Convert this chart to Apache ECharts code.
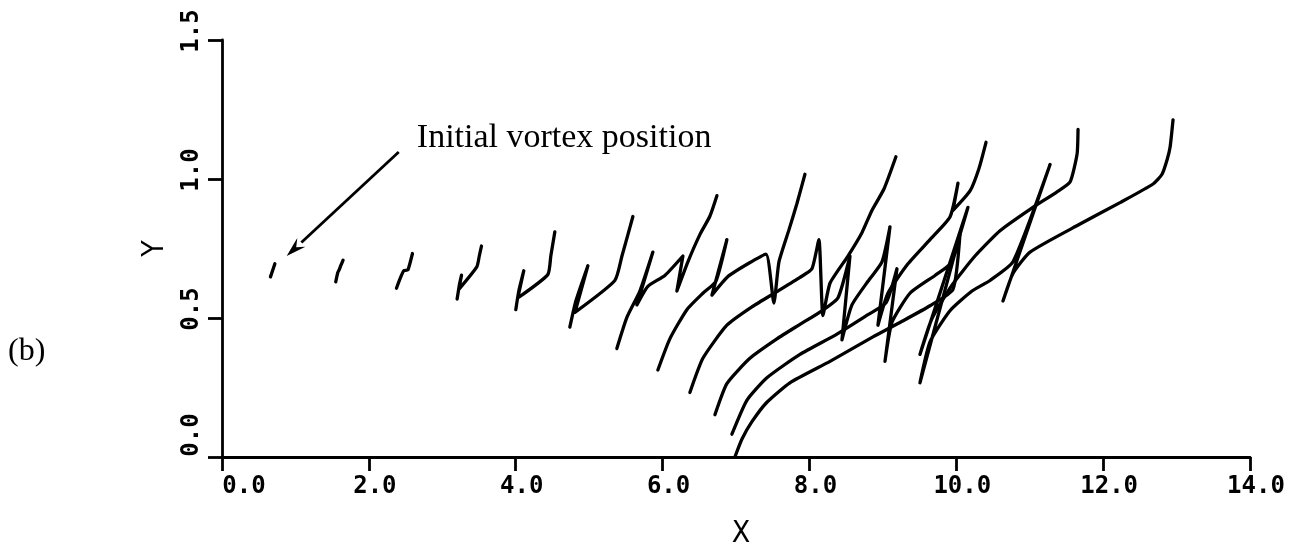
<!DOCTYPE html>
<html>
<head>
<meta charset="utf-8">
<script src="https://cdn.jsdelivr.net/npm/echarts@6/dist/echarts.min.js"></script>
<style>
  html, body { margin: 0; padding: 0; background: #fff; }
  #chart { width: 1296px; height: 554px; }
</style>
</head>
<body>
<div id="chart"></div>
<script>
// vortex sheet snapshots, [x, y], left to right
const S1 = [[0.66, 0.648], [0.72, 0.695]];
const S2 = [[1.549, 0.630], [1.576, 0.663], [1.597, 0.674], [1.617, 0.688], [1.649, 0.708]];
const S3 = [[2.376, 0.607], [2.421, 0.639], [2.475, 0.670], [2.530, 0.673], [2.557, 0.694], [2.594, 0.732]];
const S4 = [[3.202, 0.568], [3.232, 0.618], [3.262, 0.654], [3.225, 0.603], [3.470, 0.684], [3.504, 0.723], [3.534, 0.759]];
const S5 = [[4.001, 0.530], [4.042, 0.597], [4.110, 0.670], [4.028, 0.572], [4.437, 0.656], [4.478, 0.723], [4.533, 0.810]];
const S6 = [[4.737, 0.467], [4.819, 0.561], [4.983, 0.688], [4.806, 0.520], [5.350, 0.635], [5.446, 0.722], [5.596, 0.865]];
const S7 = [[5.377, 0.390], [5.514, 0.502], [5.691, 0.597], [5.868, 0.737], [5.650, 0.547], [5.800, 0.614],
            [6.031, 0.653], [6.277, 0.723], [6.195, 0.597], [6.345, 0.702], [6.508, 0.800], [6.644, 0.866], [6.740, 0.940]];
const S8 = [[5.936, 0.313], [6.099, 0.425], [6.331, 0.530], [6.549, 0.589], [6.726, 0.632], [6.876, 0.782],
            [6.672, 0.582], [6.890, 0.649], [7.162, 0.695], [7.408, 0.730], [7.516, 0.554], [7.585, 0.702],
            [7.721, 0.817], [7.830, 0.912], [7.939, 1.017]];
const S9 = [[6.372, 0.232], [6.549, 0.355], [6.876, 0.474], [7.217, 0.540], [7.571, 0.597], [7.871, 0.646],
            [8.034, 0.677], [8.129, 0.782], [8.184, 0.509], [8.280, 0.625], [8.525, 0.723], [8.715, 0.807],
            [8.851, 0.887], [9.015, 0.964], [9.178, 1.080]];
const S10 = [[6.713, 0.152], [6.876, 0.264], [7.189, 0.355], [7.557, 0.425], [7.871, 0.477], [8.170, 0.526],
             [8.388, 0.572], [8.552, 0.723], [8.443, 0.421], [8.579, 0.547], [8.797, 0.632], [8.988, 0.702],
             [9.097, 0.828], [8.933, 0.474], [9.069, 0.589], [9.342, 0.695], [9.642, 0.782], [9.914, 0.863],
             [10.023, 0.985], [9.955, 0.887], [10.187, 0.957], [10.309, 1.038], [10.405, 1.132]];
const S11 = [[6.944, 0.082], [7.148, 0.204], [7.421, 0.285], [7.871, 0.369], [8.375, 0.442], [8.797, 0.512],
             [9.042, 0.554], [9.192, 0.677], [9.029, 0.344], [9.124, 0.484], [9.369, 0.589], [9.710, 0.653],
             [9.914, 0.695], [10.159, 0.898], [9.505, 0.369], [9.669, 0.498], [9.941, 0.618], [10.255, 0.723],
             [10.595, 0.814], [11.004, 0.891], [11.372, 0.954], [11.549, 0.989], [11.645, 1.090], [11.658, 1.178]];
const S12 = [[6.985, 0.0], [7.080, 0.064], [7.217, 0.127], [7.421, 0.197], [7.734, 0.267], [8.280, 0.344],
             [8.865, 0.432], [9.233, 0.484], [9.642, 0.544], [9.955, 0.603], [10.050, 0.800], [9.505, 0.267],
             [9.642, 0.414], [9.914, 0.526], [10.214, 0.597], [10.459, 0.635], [10.772, 0.702], [11.277, 1.052],
             [10.636, 0.561], [10.772, 0.660], [11.004, 0.737], [11.685, 0.838], [12.230, 0.915], [12.680, 0.982],
             [12.802, 1.017], [12.871, 1.069], [12.912, 1.115], [12.952, 1.213]];

const snapshots = [S1, S2, S3, S4, S5, S6, S7, S8, S9, S10, S11, S12];

const xTicks = { min: 0, max: 14, step: 2 };
const yTicks = { min: 0, max: 1.5, step: 0.5 };

// annotation: arrow from the label down to the first snapshot
const arrowFrom = [2.407, 1.097];
const arrowTo = [0.881, 0.723];
const noteAt = [2.653, 1.146];
const noteText = 'Initial vortex position';

const tickFont = { fontFamily: 'DejaVu Sans Mono', fontWeight: 'bold', fontSize: 24, color: '#000' };
const nameFont = { fontFamily: 'DejaVu Sans Condensed, DejaVu Sans, sans-serif', fontSize: 30, color: '#000' };
const serif = 'Liberation Serif, DejaVu Serif, serif';

const chart = echarts.init(document.getElementById('chart'), null, { renderer: 'canvas' });

const fmt = v => (v === 0 ? '{z|0.0}' : '{n|' + v.toFixed(1) + '}');

const series = snapshots.map(d => ({
  type: 'line',
  data: d,
  showSymbol: false,
  smooth: 0.18,
  silent: true,
  lineStyle: { color: '#000', width: 3.3, cap: 'round', join: 'round' }
}));

chart.setOption({
  animation: false,
  backgroundColor: '#fff',
  grid: { left: 222, right: 46, top: 40, bottom: 86, containLabel: false },
  xAxis: {
    type: 'value',
    min: xTicks.min, max: xTicks.max, interval: xTicks.step,
    name: 'X', nameLocation: 'middle', nameGap: 62,
    nameTextStyle: Object.assign({ padding: [0, 0, 0, 10] }, nameFont),
    axisLine: { lineStyle: { color: '#000', width: 2.8 } },
    axisTick: { length: 14, lineStyle: { color: '#000', width: 2.8 } },
    splitLine: { show: false },
    axisLabel: {
      margin: 18,
      formatter: fmt,
      rich: {
        z: Object.assign({ padding: [0, 0, 0, 44] }, tickFont),
        n: Object.assign({ padding: [0, 0, 0, 12] }, tickFont)
      }
    }
  },
  yAxis: {
    type: 'value',
    min: yTicks.min, max: yTicks.max, interval: yTicks.step,
    name: 'Y', nameLocation: 'middle', nameGap: 52, nameRotate: 90,
    nameTextStyle: nameFont,
    axisLine: { lineStyle: { color: '#000', width: 2.8 } },
    axisTick: { length: 14, lineStyle: { color: '#000', width: 2.8 } },
    splitLine: { show: false },
    axisLabel: {
      rotate: 90,
      margin: 18,
      formatter: fmt,
      rich: {
        z: Object.assign({ padding: [0, 0, 0, 44] }, tickFont),
        n: Object.assign({ padding: [0, 0, 0, 18] }, tickFont)
      }
    }
  },
  series: series
});

// arrow and labels placed through the axes
const a = chart.convertToPixel({ gridIndex: 0 }, arrowFrom);
const b = chart.convertToPixel({ gridIndex: 0 }, arrowTo);
const ang = Math.atan2(b[1] - a[1], b[0] - a[0]);
const headLen = 20, headHalf = 6;
const bx = b[0] - headLen * Math.cos(ang), by = b[1] - headLen * Math.sin(ang);
const nx = -Math.sin(ang) * headHalf, ny = Math.cos(ang) * headHalf;
const p = chart.convertToPixel({ gridIndex: 0 }, noteAt);

chart.setOption({
  graphic: [
    {
      type: 'line', silent: true,
      shape: { x1: a[0], y1: a[1], x2: bx, y2: by },
      style: { stroke: '#000', lineWidth: 2.8 }
    },
    {
      type: 'polygon', silent: true,
      shape: { points: [[b[0], b[1]], [bx + nx, by + ny], [bx + 0.35 * (b[0] - bx), by + 0.35 * (b[1] - by)], [bx - nx, by - ny]] },
      style: { fill: '#000' }
    },
    {
      type: 'text', x: p[0], y: p[1], silent: true,
      style: { text: noteText, font: '34px ' + serif, fill: '#000', textVerticalAlign: 'middle', textAlign: 'left' }
    },
    {
      type: 'text', left: 8, top: 336, silent: true,
      style: { text: '(b)', font: '32px ' + serif, fill: '#000' }
    }
  ]
});
</script>
</body>
</html>
